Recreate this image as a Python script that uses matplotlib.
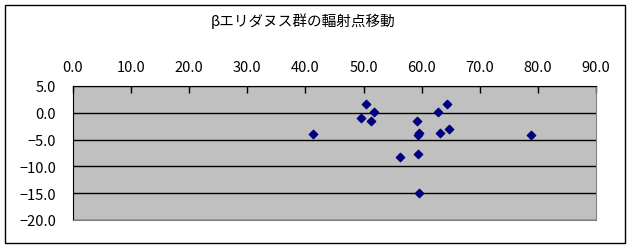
import matplotlib
matplotlib.use("Agg")
import matplotlib.pyplot as plt
from matplotlib.patches import Rectangle

plt.rcParams['font.family'] = ['Noto Sans CJK JP', 'DejaVu Sans']

# 輻射点の位置 (x, y)
x_vals = [41.3, 50.5, 51.8, 49.6, 51.3, 59.2, 59.3, 59.6, 56.2, 59.4,
          59.6, 64.3, 62.8, 63.2, 64.7, 78.8]
y_vals = [-4.0, 1.6, 0.1, -0.9, -1.5, -1.5, -4.2, -3.7, -8.2, -7.6,
          -14.9, 1.7, 0.1, -3.7, -3.1, -4.2]
x_ticks = [0, 10, 20, 30, 40, 50, 60, 70, 80, 90]
y_ticks = [5, 0, -5, -10, -15, -20]
title = "βエリダヌス群の輻射点移動"

fig = plt.figure(figsize=(6.32, 2.51), dpi=100)
ax = fig.add_axes([73/632, 1-221/251, 523/632, 134/251])

# 外枠
fig.patches.append(Rectangle((5/632, 1-244/251), 620/632, 238/251,
                             transform=fig.transFigure, fill=False,
                             edgecolor="black", linewidth=1.0))

ax.set_facecolor("#c0c0c0")
ax.scatter(x_vals, y_vals, marker="D", s=18, color="#000080", zorder=3)

ax.set_xlim(0, 90)
ax.set_ylim(-20, 5)
ax.set_xticks(x_ticks)
ax.set_xticklabels([f"{v:.1f}" for v in x_ticks])
ax.set_yticks(y_ticks)
ax.set_yticklabels([f"{v:.1f}".replace("-", "\u2212") for v in y_ticks])

ax.xaxis.tick_top()
ax.tick_params(axis="x", direction="in", length=5, width=1, pad=9,
               labelsize=10.5)
ax.tick_params(axis="y", length=0, pad=12, labelsize=10.5)
ax.grid(axis="y", color="black", linewidth=1.0)
ax.set_axisbelow(True)

ax.spines["left"].set_color("black")
ax.spines["top"].set_color("black")
ax.spines["right"].set_color("#808080")
ax.spines["bottom"].set_color("#808080")

fig.text(303/632, 1-21/251, title, ha="center", va="center", fontsize=10.5)

fig.savefig("out.png", dpi=100)
